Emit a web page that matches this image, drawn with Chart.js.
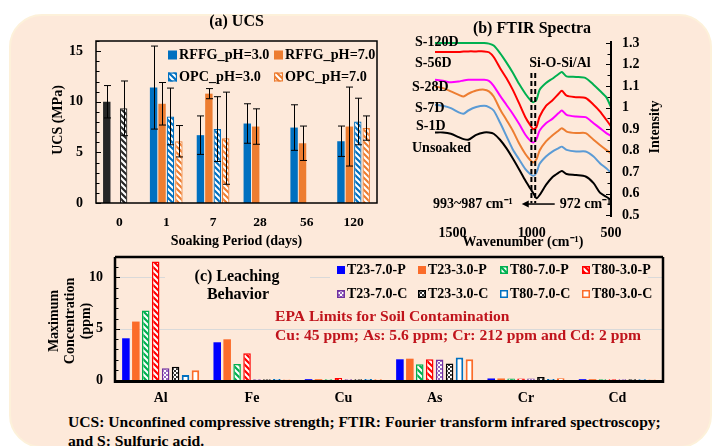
<!DOCTYPE html>
<html>
<head>
<meta charset="utf-8">
<title>RFFG graphical abstract</title>
<script src="https://cdn.jsdelivr.net/npm/chart.js@4.4.1/dist/chart.umd.min.js"></script>
<style>
  html, body { margin: 0; padding: 0; background: #fff; }
  #wrap { position: relative; width: 714px; height: 446px; overflow: hidden; }
  #panel { position: absolute; left: 9px; top: 14px; width: 699px; height: 430px; border-radius: 33px; background: #fde9da; border: 2px solid #fdf1da; }
  canvas { position: absolute; }
  #ucs { left: 40px; top: 10px; }
  #ftir { left: 400px; top: 10px; }
  #leach { left: 40px; top: 250px; }
  .cap { position: absolute; left: 68px; font: bold 15.6px "Liberation Serif", "Times New Roman", serif; color: #000; white-space: nowrap; line-height: 19px; }
</style>
</head>
<body>
<div id="wrap">
  <div id="panel"></div>
  <canvas id="ucs" width="360" height="240"></canvas>
  <canvas id="ftir" width="314" height="240"></canvas>
  <canvas id="leach" width="660" height="160"></canvas>
  <div class="cap" style="top:412px">UCS: Unconfined compressive strength; FTIR: Fourier transform infrared spectroscopy;</div>
  <div class="cap" style="top:431px">and S: Sulfuric acid.</div>
</div>
<script>
// ---- (a) UCS, MPa (day 0 = unsoaked reference, drawn black) ----
const ucsDays = ['0', '1', '7', '28', '56', '120'];
const ucsTicks = [0, 5, 10, 15];
const rffgPh3 = [10.0, 11.4, 6.7, 7.85, 7.45, 6.1];
const rffgPh3Sd = [1.6, 4.1, 1.9, 1.95, 2.25, 1.5];
const rffgPh7 = [null, 9.8, 10.8, 7.55, 5.9, 7.55];
const rffgPh7Sd = [null, 2.1, 0.5, 1.75, 1.7, 3.9];
const opcPh3 = [9.35, 8.55, 7.3, null, null, 8.05];
const opcPh3Sd = [2.7, 2.8, 3.2, null, null, 2.3];
const opcPh7 = [null, 6.1, 6.4, null, null, 7.4];
const opcPh7Sd = [null, 1.55, 4.55, null, null, 1.2];

// ---- (b) FTIR spectra, intensity (offset curves) ----
const ftirXTicks = [500, 1000, 1500];
const wavenumbers = [1610, 1560, 1510, 1460, 1430, 1400, 1350, 1300, 1270, 1240, 1200, 1160, 1120, 1080, 1040, 1010, 990, 970, 950, 910, 870, 830, 810, 780, 720, 660, 610, 570, 530, 500];
const ftirUnsoaked = [0.884, 0.884, 0.878, 0.862, 0.853, 0.850, 0.873, 0.884, 0.884, 0.878, 0.850, 0.811, 0.764, 0.713, 0.660, 0.624, 0.601, 0.578, 0.593, 0.640, 0.676, 0.697, 0.705, 0.691, 0.686, 0.679, 0.648, 0.604, 0.585, 0.570];
const ftirS1D = [1.013, 1.008, 0.997, 0.977, 0.971, 0.986, 1.002, 1.008, 1.002, 0.986, 0.930, 0.868, 0.806, 0.759, 0.713, 0.691, 0.682, 0.697, 0.738, 0.772, 0.795, 0.811, 0.818, 0.803, 0.795, 0.795, 0.772, 0.741, 0.717, 0.697];
const ftirS7D = [1.098, 1.090, 1.075, 1.059, 1.051, 1.064, 1.079, 1.083, 1.075, 1.051, 0.992, 0.943, 0.893, 0.834, 0.784, 0.756, 0.744, 0.759, 0.800, 0.842, 0.870, 0.893, 0.904, 0.888, 0.881, 0.881, 0.850, 0.826, 0.803, 0.787];
const ftirS28D = [1.129, 1.124, 1.117, 1.121, 1.126, 1.129, 1.129, 1.129, 1.124, 1.101, 1.055, 1.013, 0.971, 0.924, 0.873, 0.846, 0.837, 0.853, 0.893, 0.927, 0.947, 0.974, 0.986, 0.966, 0.958, 0.955, 0.927, 0.904, 0.881, 0.868];
const ftirS56D = [1.258, 1.258, 1.258, 1.258, 1.260, 1.261, 1.261, 1.261, 1.257, 1.235, 1.184, 1.137, 1.083, 1.020, 0.955, 0.919, 0.899, 0.909, 0.958, 1.008, 1.033, 1.064, 1.078, 1.055, 1.048, 1.044, 1.013, 0.982, 0.943, 0.912];
const ftirS120D = [1.300, 1.300, 1.300, 1.300, 1.300, 1.300, 1.300, 1.300, 1.297, 1.288, 1.253, 1.210, 1.163, 1.110, 1.064, 1.036, 1.025, 1.036, 1.083, 1.114, 1.134, 1.156, 1.165, 1.145, 1.142, 1.137, 1.106, 1.078, 1.048, 1.002];

// ---- (c) leaching, maximum concentration in ppm ----
const metals = ['Al', 'Fe', 'Cu', 'As', 'Cr', 'Cd'];
const leachTicks = [0, 5, 10];
const t23_70_P = [4.07, 3.68, 0.08, 2.02, 0.15, 0.08];
const t23_30_P = [5.70, 3.97, 0.08, 2.08, 0.15, 0.08];
const t80_70_P = [6.78, 1.56, 0.08, 1.53, 0.15, 0.08];
const t80_30_P = [11.56, 2.60, 0.20, 2.02, 0.15, 0.08];
const t23_70_C = [1.14, 0.08, 0.08, 1.99, 0.15, 0.08];
const t23_30_C = [1.30, 0.08, 0.08, 1.60, 0.30, 0.08];
const t80_70_C = [0.49, 0.10, 0.10, 2.20, 0.10, 0.08];
const t80_30_C = [0.94, 0.05, 0.08, 2.02, 0.18, 0.05];

const FONT = '"Liberation Serif", "Times New Roman", Times, serif';
const PEACH = '#fde9da';
Chart.defaults.font.family = FONT;
Chart.defaults.font.weight = 'bold';
Chart.defaults.font.size = 14;
Chart.defaults.color = '#000';
Chart.defaults.animation = false;
Chart.defaults.responsive = false;
Chart.defaults.devicePixelRatio = 1;
Chart.defaults.plugins.legend.display = false;
Chart.defaults.plugins.tooltip.enabled = false;

function hatch(color) {
  const c = document.createElement('canvas');
  c.width = c.height = 6;
  const g = c.getContext('2d');
  g.fillStyle = '#fff';
  g.fillRect(0, 0, 6, 6);
  g.strokeStyle = color;
  g.lineWidth = 2.2;
  g.beginPath();
  for (let k = -1; k <= 1; k++) { g.moveTo(k * 6 - 1, -1); g.lineTo(k * 6 + 7, 7); }
  g.stroke();
  return g.createPattern(c, 'repeat');
}

function checker(color, n) {
  const c = document.createElement('canvas');
  c.width = c.height = n * 2;
  const g = c.getContext('2d');
  g.fillStyle = color;
  g.fillRect(0, 0, n * 2, n * 2);
  g.fillStyle = '#fff';
  g.fillRect(0, 0, n, n);
  g.fillRect(n, n, n, n);
  return g.createPattern(c, 'repeat');
}

function text(ctx, str, x, y, size, opt = {}) {
  ctx.save();
  ctx.font = 'bold ' + size + 'px ' + FONT;
  ctx.fillStyle = opt.color || '#000';
  ctx.textAlign = opt.align || 'left';
  ctx.textBaseline = 'middle';
  ctx.translate(x, y);
  if (opt.rotate) ctx.rotate(opt.rotate);
  ctx.fillText(str, 0, 0);
  ctx.restore();
}

function swatch(ctx, x, y, size, fill, stroke, lw) {
  ctx.fillStyle = fill;
  ctx.fillRect(x, y, size, size);
  if (stroke && lw) {
    ctx.strokeStyle = stroke;
    ctx.lineWidth = lw;
    ctx.strokeRect(x + lw / 2, y + lw / 2, size - lw, size - lw);
  }
}

function leftTicks(ctx, scale, x, max, major) {
  ctx.beginPath();
  for (let i = 0; i <= max; i++) {
    const y = Math.round(scale.getPixelForValue(i)) + 0.5;
    ctx.moveTo(x, y);
    ctx.lineTo(x + (i % major === 0 ? 5 : 3.5), y);
  }
  ctx.stroke();
}

const last = v => Array.isArray(v) ? v[v.length - 1] : v;
const fixedTicks = list => s => { s.ticks = list.map(v => ({ value: v })); };

// ================= (a) UCS =================
const BLUE = '#0070c0', ORANGE = '#ed7d31', DARK = '#262626';
const perDay = (first, rest) => ucsDays.map((d, i) => i === 0 ? first : rest);

const ucsDecor = {
  id: 'ucsDecor',
  afterDatasetsDraw(chart) {
    const { ctx, scales: { y } } = chart;
    ctx.save();
    ctx.strokeStyle = '#000';
    ctx.lineWidth = 1;
    chart.data.datasets.forEach((ds, i) => {
      chart.getDatasetMeta(i).data.forEach((bar, j) => {
        const v = ds.data[j], e = ds.sd[j];
        if (v == null || e == null) return;
        const x = Math.round(bar.x) + 0.5;
        const t = y.getPixelForValue(v + e), b = y.getPixelForValue(v - e);
        ctx.beginPath();
        ctx.moveTo(x, t); ctx.lineTo(x, b);
        ctx.moveTo(x - 3.5, t); ctx.lineTo(x + 3.5, t);
        ctx.moveTo(x - 3.5, b); ctx.lineTo(x + 3.5, b);
        ctx.stroke();
      });
    });
    ctx.restore();
  },
  afterDraw(chart) {
    const { ctx, chartArea: a, scales: { y } } = chart;
    ctx.save();
    ctx.strokeStyle = '#000';
    ctx.lineWidth = 1.5;
    ctx.strokeRect(a.left, a.top, a.right - a.left, a.bottom - a.top);
    ctx.lineWidth = 1;
    leftTicks(ctx, y, a.left, 16, 5);
    ctx.restore();

    const cx = (a.left + a.right) / 2;
    text(ctx, '(a) UCS', cx, 12, 16, { align: 'center' });
    text(ctx, 'UCS (MPa)', 18, 110, 14, { align: 'center', rotate: -Math.PI / 2 });
    text(ctx, 'Soaking Period (days)', cx, 231, 14, { align: 'center' });

    chart.data.datasets.forEach((ds, i) => {
      const sx = i % 2 === 0 ? 128 : 234;
      const sy = i < 2 ? 45 : 67;
      swatch(ctx, sx, sy - 4.5, 9, last(ds.backgroundColor), last(ds.borderColor), ds.borderWidth);
      text(ctx, ds.label, sx + 11, sy, 14.2);
    });
  }
};

new Chart(document.getElementById('ucs'), {
  type: 'bar',
  data: {
    labels: ucsDays,
    datasets: [
      { label: 'RFFG_pH=3.0', data: rffgPh3, sd: rffgPh3Sd, backgroundColor: perDay(DARK, BLUE), borderWidth: 0 },
      { label: 'RFFG_pH=7.0', data: rffgPh7, sd: rffgPh7Sd, backgroundColor: ORANGE, borderWidth: 0 },
      { label: 'OPC_pH=3.0', data: opcPh3, sd: opcPh3Sd, backgroundColor: perDay(hatch(DARK), hatch(BLUE)), borderColor: perDay(DARK, BLUE), borderWidth: 1.2 },
      { label: 'OPC_pH=7.0', data: opcPh7, sd: opcPh7Sd, backgroundColor: hatch(ORANGE), borderColor: ORANGE, borderWidth: 1.2 }
    ]
  },
  options: {
    layout: { padding: { top: 31, right: 23, left: 0, bottom: 0 } },
    datasets: { bar: { categoryPercentage: 0.72, barPercentage: 0.88 } },
    scales: {
      x: {
        grid: { display: false, drawTicks: false }, border: { display: false },
        ticks: { padding: 11, font: { size: 13.5 }, autoSkip: false, maxRotation: 0 },
        afterFit: s => { s.height = 47; }
      },
      y: {
        min: 0, max: 16,
        grid: { display: false, drawTicks: false }, border: { display: false },
        ticks: { padding: 13, autoSkip: false },
        afterBuildTicks: fixedTicks(ucsTicks),
        afterFit: s => { s.width = 56; s.paddingTop = 0; s.paddingBottom = 0; }
      }
    }
  },
  plugins: [ucsDecor]
});

// ================= (b) FTIR =================
const ftirSeries = [
  { label: 'Unsoaked', values: ftirUnsoaked, color: '#000000' },
  { label: 'S-1D', values: ftirS1D, color: '#5b9bd5' },
  { label: 'S-7D', values: ftirS7D, color: '#ed7d31' },
  { label: 'S-28D', values: ftirS28D, color: '#ff00ff' },
  { label: 'S-56D', values: ftirS56D, color: '#ff0000' },
  { label: 'S-120D', values: ftirS120D, color: '#00b050' }
];
// label anchors (canvas px) for the series names on the left
const ftirLabelPos = { 'Unsoaked': [12, 138], 'S-1D': [16, 116], 'S-7D': [15, 98], 'S-28D': [12, 77], 'S-56D': [15, 53], 'S-120D': [15, 32] };

const ftirDecor = {
  id: 'ftirDecor',
  afterDraw(chart) {
    const { ctx, chartArea: a, scales: { x, y } } = chart;
    ctx.save();
    ctx.strokeStyle = '#000';
    ctx.lineWidth = 2;
    ctx.beginPath();
    ctx.moveTo(a.right, a.top - 2);
    ctx.lineTo(a.right, a.bottom + 2);
    ctx.stroke();
    ctx.lineWidth = 1.2;
    ctx.beginPath();
    for (let i = 0; i <= 16; i++) {
      const py = Math.round(y.getPixelForValue(0.5 + i * 0.05)) + 0.5;
      ctx.moveTo(a.right, py);
      ctx.lineTo(a.right - (i % 2 === 0 ? 5 : 3.5), py);
    }
    ctx.stroke();

    // Si-O-Si/Al band markers
    ctx.setLineDash([5, 3]);
    ctx.lineWidth = 2;
    [1002, 978].forEach(w => {
      const px = x.getPixelForValue(w);
      ctx.beginPath();
      ctx.moveTo(px, y.getPixelForValue(1.16));
      ctx.lineTo(px, y.getPixelForValue(0.555));
      ctx.stroke();
    });
    ctx.setLineDash([]);

    // shift arrow 972 -> 993~987
    const ay = y.getPixelForValue(0.551);
    const x0 = x.getPixelForValue(855), x1 = x.getPixelForValue(1063);
    ctx.lineWidth = 1.5;
    ctx.beginPath();
    ctx.moveTo(x0, ay); ctx.lineTo(x1 + 4, ay);
    ctx.stroke();
    ctx.fillStyle = '#000';
    ctx.beginPath();
    ctx.moveTo(x1, ay); ctx.lineTo(x1 + 7, ay - 3.5); ctx.lineTo(x1 + 7, ay + 3.5);
    ctx.closePath();
    ctx.fill();
    ctx.restore();

    text(ctx, '(b) FTIR Spectra', 132, 19, 16, { align: 'center' });
    text(ctx, 'Si-O-Si/Al', 160, 53, 14, { align: 'center' });
    text(ctx, '993~987 cm\u207B\u00B9', x1 - 9, ay, 14, { align: 'right' });
    text(ctx, '972 cm\u207B\u00B9', x0 + 5, ay, 14);
    text(ctx, 'Intensity', 255, 117, 14, { align: 'center', rotate: -Math.PI / 2 });
    text(ctx, 'Wavenumber (cm\u207B\u00B9)', (a.left + a.right) / 2, 232, 14, { align: 'center' });
    chart.data.datasets.forEach(ds => {
      const p = ftirLabelPos[ds.label];
      text(ctx, ds.label, p[0], p[1], 14);
    });
  }
};

new Chart(document.getElementById('ftir'), {
  type: 'line',
  data: {
    datasets: ftirSeries.map(s => ({
      label: s.label,
      data: wavenumbers.map((w, i) => ({ x: w, y: s.values[i] })),
      borderColor: s.color,
      borderWidth: 2,
      pointRadius: 0,
      tension: 0.25,
      fill: false,
      clip: 6
    }))
  },
  options: {
    layout: { padding: { left: 35, top: 33, right: 0, bottom: 0 } },
    scales: {
      x: {
        type: 'linear', min: 500, max: 1610, reverse: true,
        grid: { display: false, drawTicks: false }, border: { display: false },
        ticks: { padding: 10, autoSkip: false, maxRotation: 0, callback: v => String(v) },
        afterBuildTicks: fixedTicks(ftirXTicks),
        afterFit: s => { s.height = 35; s.paddingLeft = 0; s.paddingRight = 0; }
      },
      y: {
        position: 'right', min: 0.5, max: 1.3,
        grid: { display: false, drawTicks: false }, border: { display: false },
        ticks: { stepSize: 0.1, padding: 11, autoSkip: false, callback: v => String(Math.round(v * 10) / 10) },
        afterFit: s => { s.width = 103; s.paddingTop = 0; s.paddingBottom = 0; }
      }
    }
  },
  plugins: [ftirDecor]
});

// ================= (c) Leaching =================
const C_BLUE = '#0000ff', C_ORANGE = '#fb6c2a', C_GREEN = '#00b050', C_RED = '#ff0000', C_PURPLE = '#7030a0', C_SKY = '#0070c0';
const leachSets = [
  { label: 'T23-7.0-P', data: t23_70_P, backgroundColor: C_BLUE, borderWidth: 0 },
  { label: 'T23-3.0-P', data: t23_30_P, backgroundColor: C_ORANGE, borderWidth: 0 },
  { label: 'T80-7.0-P', data: t80_70_P, backgroundColor: hatch(C_GREEN), borderColor: C_GREEN, borderWidth: 1.5 },
  { label: 'T80-3.0-P', data: t80_30_P, backgroundColor: hatch(C_RED), borderColor: C_RED, borderWidth: 1.5 },
  { label: 'T23-7.0-C', data: t23_70_C, backgroundColor: checker('#9466c0', 2), borderColor: C_PURPLE, borderWidth: 1.5 },
  { label: 'T23-3.0-C', data: t23_30_C, backgroundColor: checker('#333333', 2), borderColor: '#000', borderWidth: 1.5 },
  { label: 'T80-7.0-C', data: t80_70_C, backgroundColor: '#ffffff', borderColor: C_SKY, borderWidth: 2 },
  { label: 'T80-3.0-C', data: t80_30_C, backgroundColor: '#ffffff', borderColor: C_ORANGE, borderWidth: 2 }
];

const leachDecor = {
  id: 'leachDecor',
  beforeDatasetsDraw(chart) {
    const { ctx, chartArea: a, scales: { y } } = chart;
    ctx.save();
    ctx.strokeStyle = '#d9d9d9';
    ctx.lineWidth = 1;
    ctx.beginPath();
    [5, 10].forEach(v => {
      const py = Math.round(y.getPixelForValue(v)) + 0.5;
      ctx.moveTo(a.left, py); ctx.lineTo(a.right, py);
    });
    ctx.stroke();
    // text boxes sit over the gridline
    ctx.fillStyle = PEACH;
    ctx.fillRect(125, 9, 145, 46);
    ctx.fillRect(290, 9, 318, 46);
    ctx.restore();
  },
  afterDraw(chart) {
    const { ctx, chartArea: a, scales: { y } } = chart;
    ctx.save();
    ctx.strokeStyle = '#000';
    ctx.lineWidth = 2.5;
    ctx.beginPath();
    ctx.moveTo(a.left, a.top); ctx.lineTo(a.right, a.top);
    ctx.moveTo(a.left, a.top); ctx.lineTo(a.left, a.bottom + 3);
    ctx.moveTo(a.right, a.top); ctx.lineTo(a.right, a.bottom + 3);
    ctx.stroke();
    ctx.lineWidth = 3;
    ctx.beginPath();
    ctx.moveTo(a.left - 1, a.bottom + 1.5); ctx.lineTo(a.right + 1, a.bottom + 1.5);
    ctx.stroke();
    ctx.lineWidth = 1;
    leftTicks(ctx, y, a.left, 12, 5);
    ctx.restore();

    text(ctx, 'Maximum', 14, 71, 14, { align: 'center', rotate: -Math.PI / 2 });
    text(ctx, 'Concentration', 30, 71, 14, { align: 'center', rotate: -Math.PI / 2 });
    text(ctx, '(ppm)', 46, 71, 14, { align: 'center', rotate: -Math.PI / 2 });
    text(ctx, '(c) Leaching', 197, 27, 16, { align: 'center' });
    text(ctx, 'Behavior', 198, 45, 16, { align: 'center' });
    text(ctx, 'EPA Limits for Soil Contamination', 235, 67, 15.6, { color: '#c0141c' });
    text(ctx, 'Cu: 45 ppm; As: 5.6 ppm; Cr: 212 ppm and Cd: 2 ppm', 235, 86, 15.6, { color: '#c0141c' });

    const cols = [297, 378, 460, 542];
    chart.data.datasets.forEach((ds, i) => {
      const sx = cols[i % 4];
      const sy = i < 4 ? 20 : 44;
      swatch(ctx, sx, sy - 4, 8, ds.backgroundColor, ds.borderColor, ds.borderWidth ? 1.5 : 0);
      text(ctx, ds.label, sx + 10, sy, 14);
    });
  }
};

new Chart(document.getElementById('leach'), {
  type: 'bar',
  data: { labels: metals, datasets: leachSets },
  options: {
    layout: { padding: { top: 7, right: 37, left: 0, bottom: 0 } },
    datasets: { bar: { categoryPercentage: 0.87, barPercentage: 0.76 } },
    scales: {
      x: {
        grid: { display: false, drawTicks: false }, border: { display: false },
        ticks: { padding: 10, autoSkip: false, maxRotation: 0 },
        afterFit: s => { s.height = 30; }
      },
      y: {
        min: 0, max: 12,
        grid: { display: false, drawTicks: false }, border: { display: false },
        ticks: { padding: 12, autoSkip: false },
        afterBuildTicks: fixedTicks(leachTicks),
        afterFit: s => { s.width = 75; s.paddingTop = 0; s.paddingBottom = 0; }
      }
    }
  },
  plugins: [leachDecor]
});
</script>
</body>
</html>
